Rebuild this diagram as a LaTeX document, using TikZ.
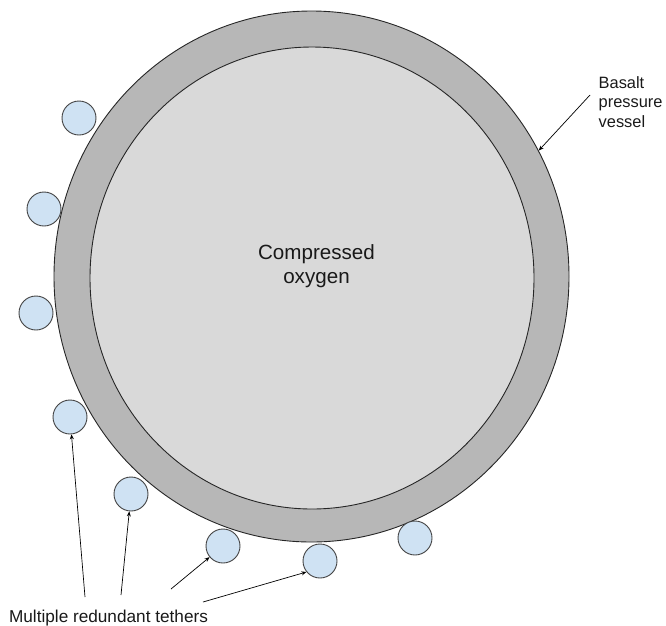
\documentclass[tikz,border=0pt]{standalone}
\usepackage{fontspec}
\setmainfont{Liberation Sans}
\usetikzlibrary{shapes.geometric,arrows.meta}
\definecolor{ringgray}{HTML}{B7B7B7}
\definecolor{coregray}{HTML}{D9D9D9}
\definecolor{tetherblue}{HTML}{CFE2F3}
\definecolor{edgegray}{HTML}{434343}
\tikzset{
  vessel/.style={ellipse, draw=black!85, line width=0.9pt, inner sep=0pt},
  tether/.style={circle, draw=edgegray, line width=0.9pt, fill=tetherblue, minimum size=34pt, inner sep=0pt},
  pointer/.style={draw=black, line width=0.7pt, -{Stealth[length=5pt,width=4pt]}},
  lbl/.style={inner sep=0pt, text=black!90}
}
\begin{document}
\begin{tikzpicture}[x=1pt,y=-1pt]
\useasboundingbox (0,0) rectangle (666,625);
\node[vessel, fill=ringgray, minimum width=515pt, minimum height=531pt] (outer) at (311.5,276.5) {};
\node[vessel, fill=coregray, minimum width=444pt, minimum height=462pt] (inner) at (312,278) {};
\node[lbl, align=center, font=\fontsize{20.6}{24}\selectfont] (oxy) at (316.5,266.5) {Compressed\\oxygen};

\node[tether] (t1) at (79,118) {};
\node[tether] (t2) at (44,209) {};
\node[tether] (t3) at (36,313) {};
\node[tether] (t4) at (70,417) {};
\node[tether] (t5) at (131,494) {};
\node[tether] (t6) at (223,546) {};
\node[tether] (t7) at (320,561) {};
\node[tether] (t8) at (415,538) {};

\node[lbl, anchor=base, font=\fontsize{17.2}{20}\selectfont] (teth) at (108.5,622) {Multiple redundant tethers};
\node[lbl, anchor=north west, align=left, font=\fontsize{16.4}{19.6}\selectfont] (bas) at (598.5,76) {Basalt\\pressure\\vessel};

\coordinate (a4) at (85,597);
\coordinate (a5) at (121,595);
\coordinate (a6) at (171,589);
\coordinate (a7) at (203,602);
\coordinate (ab) at (590,95);

\draw[pointer] (a4) -- (t4);
\draw[pointer] (a5) -- (t5);
\draw[pointer] (a6) -- (t6);
\draw[pointer] (a7) -- (t7.219);
\draw[pointer] (ab) -- (outer.29);
\end{tikzpicture}
\end{document}
